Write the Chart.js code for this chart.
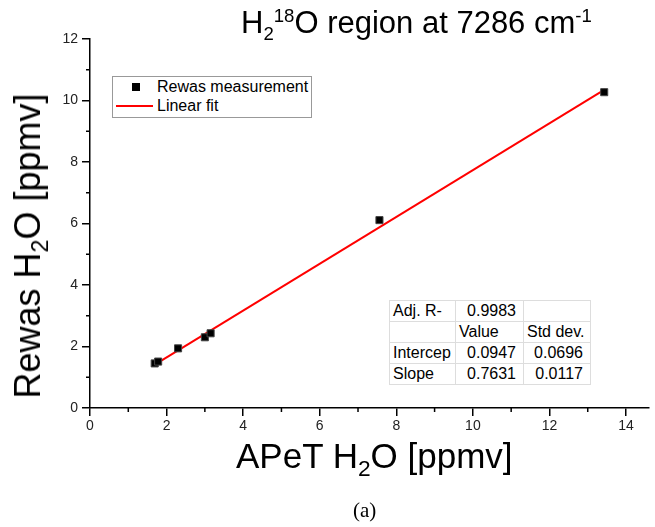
<!DOCTYPE html>
<html>
<head>
<meta charset="utf-8">
<script src="https://cdn.jsdelivr.net/npm/chart.js@4"></script>
<style>
  body { margin: 0; background: #fff; }
  #wrap { position: relative; width: 655px; height: 527px; font-family: "Liberation Sans", Arial, sans-serif; }
  .abs { position: absolute; white-space: nowrap; color: #000; }
  sub, sup { line-height: 0; }
  #title { left: 241px; top: 7px; font-size: 31px; line-height: 1; }
  #title sub, #title sup { font-size: 60%; }
  #xtitle { left: 236px; top: 436px; font-size: 35px; }
  #ytitle { left: 28px; top: 246px; font-size: 36px; transform: translate(-50%, -50%) rotate(-90deg); }
  #xtitle sub, #ytitle sub { font-size: 65%; }
  #caption { left: 353px; top: 498px; font-family: "Liberation Serif", "DejaVu Serif", serif; font-size: 21px; }
  #legend { left: 112px; top: 76px; width: 198px; height: 40px; border: 1px solid #999; background: #fff; font-size: 16px; }
  #legend .row { position: absolute; left: 0; height: 20px; line-height: 20px; }
  #legend .sq { position: absolute; left: 19px; top: 6px; width: 8px; height: 8px; background: #000; }
  #legend .ln { position: absolute; left: 3px; top: 9px; width: 37px; height: 2px; background: #f00; }
  #legend .txt { position: absolute; left: 44px; }
  #stats { left: 389px; top: 300px; border-collapse: collapse; border: 1px solid #999; background: #fff; font-size: 16px; }
  #stats td { border: 1px solid #ddd; height: 21px; padding: 0 3px; box-sizing: border-box; }
  #stats td.n { text-align: right; padding-right: 7px; }
</style>
</head>
<body>
<div id="wrap">
  <canvas id="chart" width="655" height="527"></canvas>
  <div class="abs" id="title">H<sub>2</sub><sup>18</sup>O region at 7286 cm<sup>-1</sup></div>
  <div class="abs" id="xtitle">APeT H<sub>2</sub>O [ppmv]</div>
  <div class="abs" id="ytitle">Rewas H<sub>2</sub>O [ppmv]</div>
  <div class="abs" id="caption">(a)</div>
  <div class="abs" id="legend">
    <div class="row" style="top:0"><div class="sq"></div><span class="txt">Rewas measurement</span></div>
    <div class="row" style="top:19px"><div class="ln"></div><span class="txt">Linear fit</span></div>
  </div>
  <table class="abs" id="stats">
    <tr><td style="width:66px">Adj. R-</td><td class="n" style="width:68px">0.9983</td><td style="width:67px"></td></tr>
    <tr><td></td><td>Value</td><td>Std dev.</td></tr>
    <tr><td>Intercep</td><td class="n">0.0947</td><td class="n">0.0696</td></tr>
    <tr><td>Slope</td><td class="n">0.7631</td><td class="n">0.0117</td></tr>
  </table>
</div>
<script>
const apetValues = [1.69, 1.78, 2.30, 3.00, 3.15, 7.56, 13.43];
const rewasValues = [1.45, 1.51, 1.94, 2.30, 2.43, 6.11, 10.27];

// fitted line end points
const fitX = [1.65, 13.45];
const fitY = [1.38, 10.36];

const xTicks = [0, 2, 4, 6, 8, 10, 12, 14];
const yTicks = [0, 2, 4, 6, 8, 10, 12];
const xMinor = [1, 3, 5, 7, 9, 11, 13];
const yMinor = [1, 3, 5, 7, 9, 11];

// small ticks between the labelled ones
const minorTicks = {
    id: 'minorTicks',
    afterDraw(chart) {
        const ctx = chart.ctx;
        const xs = chart.scales.x, ys = chart.scales.y;
        ctx.save();
        ctx.strokeStyle = '#000';
        ctx.lineWidth = 1.5;
        ctx.beginPath();
        xMinor.forEach(v => {
            const px = xs.getPixelForValue(v);
            ctx.moveTo(px, xs.top);
            ctx.lineTo(px, xs.top + 4);
        });
        yMinor.forEach(v => {
            const py = ys.getPixelForValue(v);
            ctx.moveTo(ys.right, py);
            ctx.lineTo(ys.right - 4, py);
        });
        ctx.stroke();
        ctx.restore();
    }
};

const tickFont = { family: '"Liberation Sans", Arial, sans-serif', size: 14 };

new Chart(document.getElementById('chart').getContext('2d'), {
    type: 'scatter',
    data: {
        datasets: [{
            label: 'Rewas measurement',
            data: apetValues.map((x, i) => ({ x, y: rewasValues[i] })),
            pointStyle: 'rect',
            pointRadius: 5,
            backgroundColor: '#000',
            borderColor: '#444',
            borderWidth: 1,
            order: 1
        }, {
            label: 'Linear fit',
            type: 'line',
            data: fitX.map((x, i) => ({ x, y: fitY[i] })),
            borderColor: '#ff0000',
            borderWidth: 2,
            pointRadius: 0,
            fill: false,
            order: 2
        }]
    },
    options: {
        responsive: false,
        animation: false,
        layout: { padding: { left: 0, top: 39, right: 3, bottom: 89 } },
        plugins: { legend: { display: false }, tooltip: { enabled: false } },
        scales: {
            x: {
                type: 'linear',
                min: 0,
                max: 14.6,
                afterFit: s => { s.height = 30; },
                afterBuildTicks: s => { s.ticks = xTicks.map(v => ({ value: v })); },
                ticks: { font: tickFont, color: '#222', padding: 2, maxRotation: 0 },
                grid: { drawOnChartArea: false, drawTicks: true, tickLength: 8, color: '#000', lineWidth: 1.5 },
                border: { color: '#000', width: 1.5 }
            },
            y: {
                type: 'linear',
                min: 0,
                max: 12,
                afterFit: s => { s.width = 90; },
                afterBuildTicks: s => { s.ticks = yTicks.map(v => ({ value: v })); },
                ticks: { font: tickFont, color: '#222', padding: 4 },
                grid: { drawOnChartArea: false, drawTicks: true, tickLength: 8, color: '#000', lineWidth: 1.5 },
                border: { color: '#000', width: 1.5 }
            }
        }
    },
    plugins: [minorTicks]
});
</script>
</body>
</html>
